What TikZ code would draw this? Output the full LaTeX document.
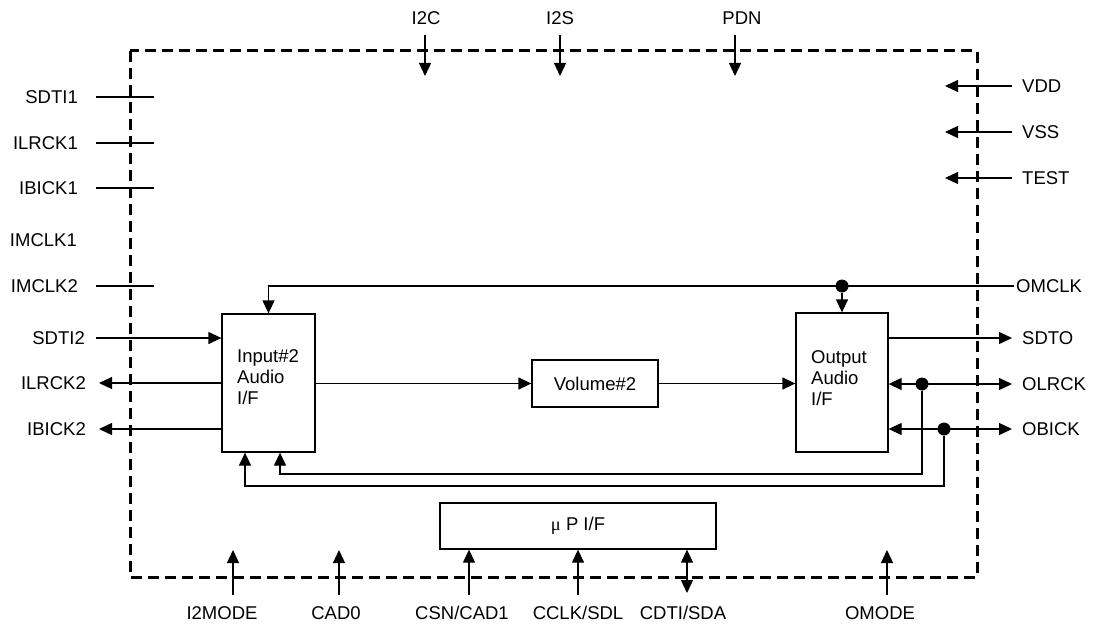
\documentclass[tikz,border=0pt]{standalone}
\usepackage{fontspec}
\setmainfont{Liberation Sans}
\newfontfamily\greekfont{Liberation Serif}
\usetikzlibrary{arrows.meta, positioning}

\tikzset{
  wire/.style={line width=1.3pt},
  sig/.style={wire, -{Triangle[length=13pt,width=12pt]}},
  bisig/.style={wire, {Triangle[length=13pt,width=12pt]}-{Triangle[length=13pt,width=12pt]}},
  blk/.style={draw, line width=1.3pt, inner sep=0pt},
  pin/.style={font=\fontsize{18.5}{21}\selectfont, inner sep=2pt},
  junction/.style={circle, fill=black, inner sep=0pt, minimum size=13pt},
}

\begin{document}
\begin{tikzpicture}[x=1pt,y=-1pt]
  \useasboundingbox (0,0) rectangle (1094,626);
  % chip outline
  \draw[line width=3pt, dash pattern=on 11pt off 6pt] (130,51) rectangle (977,577);
  % blocks
  \node[blk, minimum width=93pt, minimum height=138pt] (in2) at (268.5,383) {};
  \node[pin, align=left, anchor=west] (in2txt) at (235,377) {Input\#2\\Audio\\I/F};
  \node[blk, minimum width=92pt, minimum height=139pt] (out) at (842,382.5) {};
  \node[pin, align=left, anchor=west] (outtxt) at (809,378) {Output\\Audio\\I/F};
  \node[blk, pin, inner sep=0pt, minimum width=126pt, minimum height=47pt] (vol) at (595,383.5) {Volume\#2};
  \node[blk, pin, inner sep=0pt, minimum width=276pt, minimum height=46pt] (up) at (578,526) {{\greekfont μ} P I/F};
  % unused input pins
  \foreach \name/\y in {SDTI1/97, ILRCK1/143, IBICK1/188, IMCLK2/286}{
    \node[pin, anchor=east] (\name) at (80,\y) {\name};
    \coordinate (\name-a) at (96,\y);
    \coordinate (\name-b) at (154,\y);
    \draw[wire] (\name-a) -- (\name-b);
  }
  \node[pin, anchor=east] (IMCLK1) at (79,240) {IMCLK1};
  % input#2 pins
  \node[pin, anchor=east] (SDTI2) at (87,338) {SDTI2};
  \node[pin, anchor=east] (ILRCK2) at (88,383) {ILRCK2};
  \node[pin, anchor=east] (IBICK2) at (88,429) {IBICK2};
  \coordinate (SDTI2-a) at (96,338);
  \coordinate (ILRCK2-a) at (99,383);
  \coordinate (IBICK2-a) at (99,429);
  \draw[sig] (SDTI2-a) -- (SDTI2-a -| in2.west);
  \draw[sig] (ILRCK2-a -| in2.west) -- (ILRCK2-a);
  \draw[sig] (IBICK2-a -| in2.west) -- (IBICK2-a);
  % power pins
  \foreach \name/\y in {VDD/86, VSS/132, TEST/178}{
    \node[pin, anchor=west] (\name) at (1020,\y) {\name};
    \coordinate (\name-a) at (1012,\y);
    \coordinate (\name-b) at (945,\y);
    \draw[sig] (\name-a) -- (\name-b);
  }
  % top pins
  \foreach \name/\x/\lx in {I2C/425/426, I2S/560/560, PDN/735/742}{
    \node[pin] (\name) at (\lx,18) {\name};
    \coordinate (\name-a) at (\x,35);
    \coordinate (\name-b) at (\x,76);
    \draw[sig] (\name-a) -- (\name-b);
  }
  % master clock
  \node[pin, anchor=west] (OMCLK) at (1014,286) {OMCLK};
  \draw[sig] (OMCLK.west) -- (in2.north |- OMCLK.west) -- (in2.north);
  \node[junction] (j1) at (842,286) {};
  \draw[sig] (j1) -- (out.north);
  % data path
  \draw[sig] (in2.east |- vol.west) -- (vol.west);
  \draw[sig] (vol.east) -- (vol.east -| out.west);
  % output pins
  \node[pin, anchor=west] (SDTO) at (1020,338) {SDTO};
  \node[pin, anchor=west] (OLRCK) at (1020,384) {OLRCK};
  \node[pin, anchor=west] (OBICK) at (1020,429) {OBICK};
  \coordinate (SDTO-a) at (1012,338);
  \coordinate (OLRCK-a) at (1012,384);
  \coordinate (OBICK-a) at (1012,429);
  \draw[sig] (SDTO-a -| out.east) -- (SDTO-a);
  \draw[bisig] (OLRCK-a -| out.east) -- (OLRCK-a);
  \draw[bisig] (OBICK-a -| out.east) -- (OBICK-a);
  \node[junction] (j2) at (922,384) {};
  \node[junction] (j3) at (944,429) {};
  \draw[sig] (j2) -- ++(0,90) -| ([xshift=11.5pt]in2.south);
  \draw[sig] (j3) -- ++(0,57) -| ([xshift=-23.5pt]in2.south);
  % bottom pins
  \foreach \name/\txt/\x/\lx in {i2mode/I2MODE/233/222, cad0/CAD0/339/336, omode/OMODE/887/880}{
    \node[pin] (\name) at (\lx,613) {\txt};
    \coordinate (\name-a) at (\x,595);
    \coordinate (\name-b) at (\x,550);
    \draw[sig] (\name-a) -- (\name-b);
  }
  \node[pin] (csn) at (462,613) {CSN/CAD1};
  \node[pin] (cclk) at (578,613) {CCLK/SDL};
  \node[pin] (cdti) at (683,613) {CDTI/SDA};
  \coordinate (csn-a) at (469,595);
  \coordinate (cclk-a) at (578,595);
  \coordinate (cdti-a) at (687,593);
  \draw[sig] (csn-a) -- (csn-a |- up.south);
  \draw[sig] (cclk-a) -- (cclk-a |- up.south);
  \draw[bisig] (cdti-a) -- (cdti-a |- up.south);
\end{tikzpicture}
\end{document}
